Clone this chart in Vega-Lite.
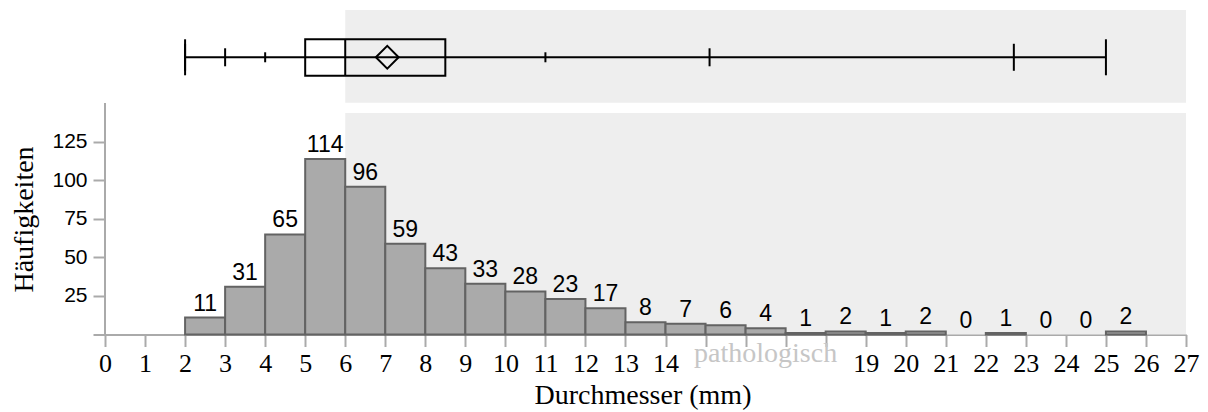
{
  "$schema": "https://vega.github.io/schema/vega-lite/v6.json",
  "autosize": {"type": "none"},
  "width": 1093,
  "height": 324.5,
  "padding": {"left": 93, "top": 10, "right": 22, "bottom": 77.5},
  "background": "white",
  "config": {"view": {"stroke": null}},
  "datasets": {
    "counts": [
      {"bin_start": 2, "bin_end": 3, "count": 11},
      {"bin_start": 3, "bin_end": 4, "count": 31},
      {"bin_start": 4, "bin_end": 5, "count": 65},
      {"bin_start": 5, "bin_end": 6, "count": 114},
      {"bin_start": 6, "bin_end": 7, "count": 96},
      {"bin_start": 7, "bin_end": 8, "count": 59},
      {"bin_start": 8, "bin_end": 9, "count": 43},
      {"bin_start": 9, "bin_end": 10, "count": 33},
      {"bin_start": 10, "bin_end": 11, "count": 28},
      {"bin_start": 11, "bin_end": 12, "count": 23},
      {"bin_start": 12, "bin_end": 13, "count": 17},
      {"bin_start": 13, "bin_end": 14, "count": 8},
      {"bin_start": 14, "bin_end": 15, "count": 7},
      {"bin_start": 15, "bin_end": 16, "count": 6},
      {"bin_start": 16, "bin_end": 17, "count": 4},
      {"bin_start": 17, "bin_end": 18, "count": 1},
      {"bin_start": 18, "bin_end": 19, "count": 2},
      {"bin_start": 19, "bin_end": 20, "count": 1},
      {"bin_start": 20, "bin_end": 21, "count": 2},
      {"bin_start": 21, "bin_end": 22, "count": 0},
      {"bin_start": 22, "bin_end": 23, "count": 1},
      {"bin_start": 23, "bin_end": 24, "count": 0},
      {"bin_start": 24, "bin_end": 25, "count": 0},
      {"bin_start": 25, "bin_end": 26, "count": 2}
    ],
    "summary": [
      {"min": 2, "q1": 5, "median": 6, "mean": 7.05, "q3": 8.5, "max": 25}
    ],
    "whiskerTicks": [
      {"stat": "min", "value": 2},
      {"stat": "p0.1", "value": 2},
      {"stat": "p1", "value": 3},
      {"stat": "p5", "value": 4},
      {"stat": "p95", "value": 11},
      {"stat": "p99", "value": 15.1},
      {"stat": "p99.9", "value": 22.7},
      {"stat": "max", "value": 25}
    ],
    "zone": [
      {"start": 6, "end": 27, "label": "pathologisch"}
    ]
  },
  "layer": [
    {
      "data": {"name": "zone"},
      "mark": {"type": "rect", "fill": "#eeeeee"},
      "encoding": {
        "x": {
          "field": "start",
          "type": "quantitative",
          "scale": {"domain": [-0.3, 27], "nice": false, "zero": false},
          "axis": {
            "values": [0, 1, 2, 3, 4, 5, 6, 7, 8, 9, 10, 11, 12, 13, 14, 15, 16, 17, 18, 19, 20, 21, 22, 23, 24, 25, 26, 27],
            "labelExpr": "datum.value >= 15 && datum.value <= 18 ? '' : datum.label",
            "title": "Durchmesser (mm)",
            "grid": false,
            "domainColor": "#aaaaaa",
            "domainWidth": 2,
            "tickColor": "#aaaaaa",
            "tickWidth": 2,
            "tickSize": 12,
            "labelFont": "Liberation Serif",
            "labelFontSize": 26,
            "labelColor": "black",
            "labelPadding": 4,
            "labelFlush": false,
            "labelOverlap": false,
            "titleFont": "Liberation Serif",
            "titleFontSize": 28,
            "titleFontWeight": "normal",
            "titleColor": "black",
            "titleX": 549.5,
            "titleY": 68.5,
            "titleBaseline": "alphabetic",
            "titleAlign": "center"
          }
        },
        "x2": {"field": "end"},
        "y": {
          "datum": 0,
          "type": "quantitative",
          "scale": {"domain": [0, 210.7], "nice": false, "zero": true},
          "axis": {
            "values": [25, 50, 75, 100, 125],
            "offset": -12,
            "domain": false,
            "grid": false,
            "tickColor": "#aaaaaa",
            "tickWidth": 2,
            "tickSize": 12,
            "labelFont": "Liberation Sans",
            "labelFontSize": 21,
            "labelColor": "black",
            "labelPadding": 6,
            "title": "Häufigkeiten",
            "titleFont": "Liberation Serif",
            "titleFontSize": 28,
            "titleFontWeight": "normal",
            "titleColor": "black",
            "titleX": -73,
            "titleY": 209,
            "titleBaseline": "alphabetic",
            "titleAlign": "center",
            "titleAngle": -90
          }
        },
        "y2": {"datum": 143.8}
      }
    },
    {
      "data": {"name": "zone"},
      "mark": {"type": "rect", "fill": "#eeeeee"},
      "encoding": {
        "x": {"field": "start", "type": "quantitative"},
        "x2": {"field": "end"},
        "y": {"datum": 150.5, "type": "quantitative"},
        "y2": {"datum": 210.7}
      }
    },
    {
      "data": {"name": "counts"},
      "transform": [{"filter": "datum.count > 0"}],
      "mark": {"type": "rect", "fill": "#aaaaaa", "stroke": "#636363", "strokeWidth": 2},
      "encoding": {
        "x": {"field": "bin_start", "type": "quantitative"},
        "x2": {"field": "bin_end"},
        "y": {"field": "count", "type": "quantitative"},
        "y2": {"datum": 0}
      }
    },
    {
      "data": {"name": "counts"},
      "mark": {"type": "rule", "color": "#aaaaaa", "strokeWidth": 2},
      "encoding": {
        "x": {"datum": 0, "type": "quantitative"},
        "y": {"datum": 0, "type": "quantitative"},
        "y2": {"datum": 150}
      }
    },
    {
      "data": {"name": "counts"},
      "mark": {"type": "text", "font": "Liberation Sans", "fontSize": 23, "color": "black", "baseline": "alphabetic", "align": "center", "dx": 20, "dy": -7},
      "encoding": {
        "x": {"field": "bin_start", "type": "quantitative"},
        "y": {"field": "count", "type": "quantitative"},
        "text": {"field": "count", "type": "quantitative"}
      }
    },
    {
      "data": {"name": "summary"},
      "mark": {"type": "rule", "color": "black", "strokeWidth": 2},
      "encoding": {
        "x": {"field": "min", "type": "quantitative"},
        "x2": {"field": "max"},
        "y": {"datum": 180, "type": "quantitative"}
      }
    },
    {
      "data": {"name": "whiskerTicks"},
      "mark": {"type": "tick", "orient": "vertical", "thickness": 2, "color": "black", "opacity": 1},
      "encoding": {
        "x": {"field": "value", "type": "quantitative"},
        "y": {"datum": 180, "type": "quantitative"},
        "size": {
          "field": "stat",
          "type": "nominal",
          "scale": {"type": "ordinal", "domain": ["min", "p0.1", "p1", "p5", "p95", "p99", "p99.9", "max"], "range": [36, 27, 18, 10, 10, 18, 27, 36]},
          "legend": null
        }
      }
    },
    {
      "data": {"name": "summary"},
      "mark": {"type": "rect", "fill": "transparent", "stroke": "black", "strokeWidth": 2},
      "encoding": {
        "x": {"field": "q1", "type": "quantitative"},
        "x2": {"field": "q3"},
        "y": {"datum": 168, "type": "quantitative"},
        "y2": {"datum": 191.7}
      }
    },
    {
      "data": {"name": "summary"},
      "mark": {"type": "rule", "color": "black", "strokeWidth": 2},
      "encoding": {
        "x": {"field": "median", "type": "quantitative"},
        "y": {"datum": 168, "type": "quantitative"},
        "y2": {"datum": 191.7}
      }
    },
    {
      "data": {"name": "summary"},
      "mark": {"type": "point", "shape": "diamond", "filled": false, "stroke": "black", "strokeWidth": 2, "size": 520, "opacity": 1},
      "encoding": {
        "x": {"field": "mean", "type": "quantitative"},
        "y": {"datum": 180, "type": "quantitative"}
      }
    },
    {
      "data": {"name": "zone"},
      "mark": {"type": "text", "font": "Liberation Serif", "fontSize": 28, "color": "#c6c6c6", "baseline": "alphabetic", "align": "center", "dy": 27.5},
      "encoding": {
        "x": {"datum": 16.5, "type": "quantitative"},
        "y": {"datum": 0, "type": "quantitative"},
        "text": {"field": "label", "type": "nominal"}
      }
    }
  ]
}
